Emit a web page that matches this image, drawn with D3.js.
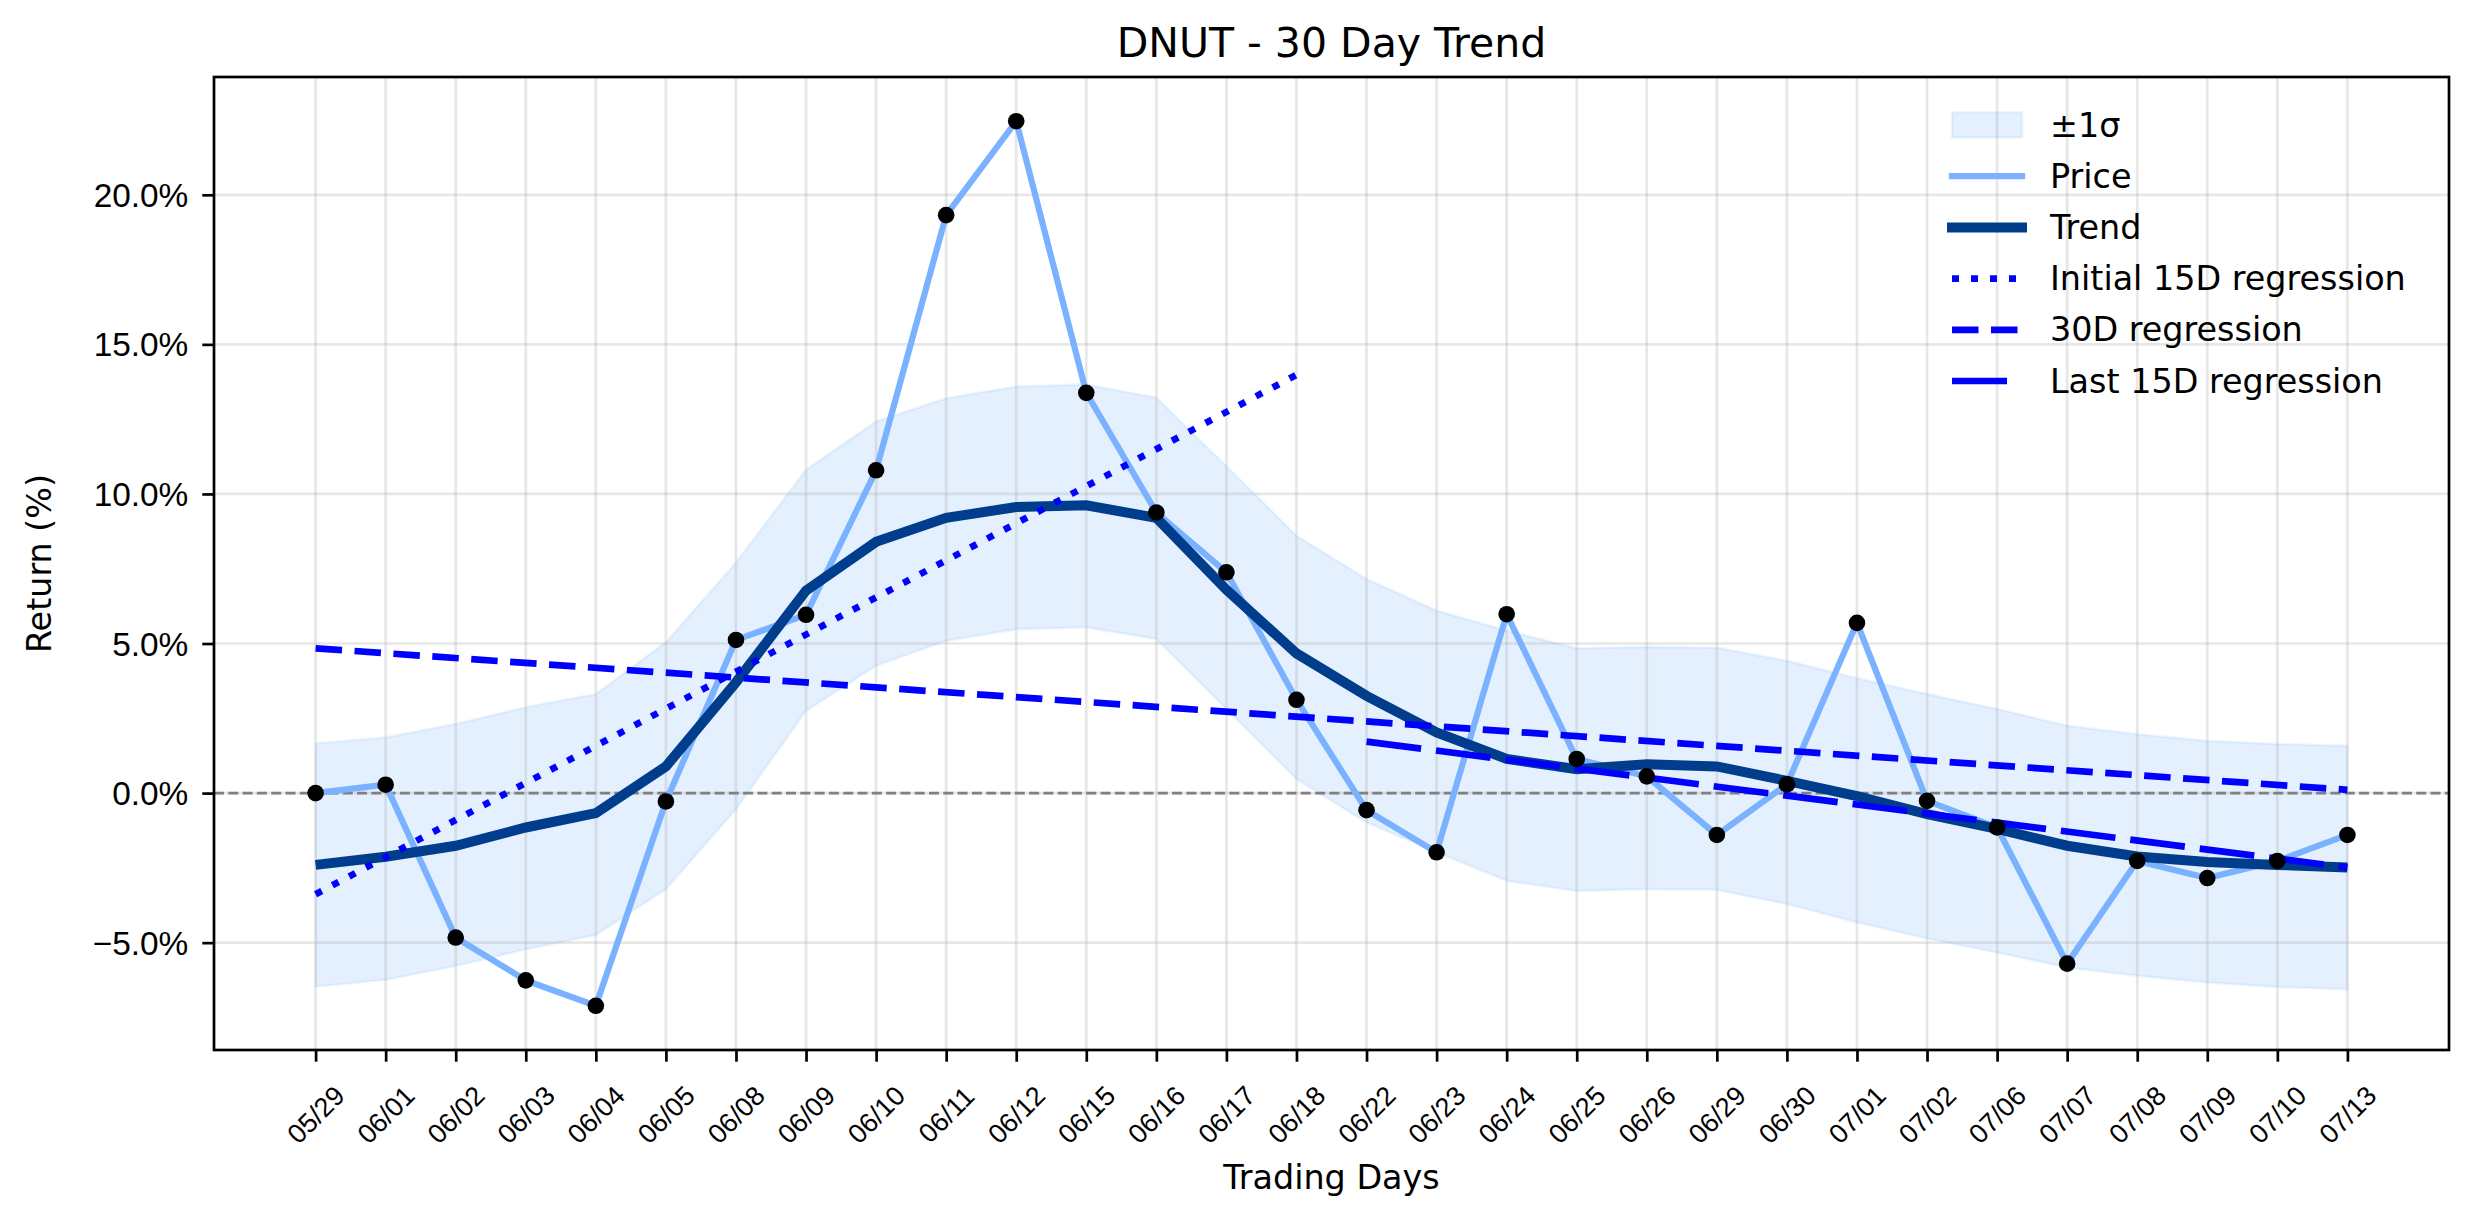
<!DOCTYPE html>
<html>
<head>
<meta charset="utf-8">
<title>DNUT - 30 Day Trend</title>
<script src="https://d3js.org/d3.v7.min.js"></script>
<style>
  body { margin: 0; background: #fff; }
  svg { display: block; font-family: "DejaVu Sans", sans-serif; }
  .axis line { stroke: #000; stroke-width: 2.7; }
  .axis text { fill: #000; }
  .grid line { stroke: #b0b0b0; stroke-opacity: 0.3; stroke-width: 2.7; }
</style>
</head>
<body>
<div id="content"></div>
<script>
// values (return in %)
var days = ['05/29','06/01','06/02','06/03','06/04','06/05','06/08','06/09','06/10','06/11',
            '06/12','06/15','06/16','06/17','06/18','06/22','06/23','06/24','06/25','06/26',
            '06/29','06/30','07/01','07/02','07/06','07/07','07/08','07/09','07/10','07/13'];

var price = [0.00, 0.28, -4.83, -6.26, -7.11, -0.28, 5.12, 5.96, 10.79, 19.32,
             22.46, 13.38, 9.38, 7.38, 3.12, -0.57, -1.98, 5.98, 1.14, 0.56,
             -1.40, 0.29, 5.69, -0.26, -1.15, -5.70, -2.27, -2.84, -2.27, -1.40];

var trend = [-2.40, -2.13, -1.76, -1.15, -0.67, 0.89, 3.70, 6.77, 8.40, 9.20,
             9.56, 9.62, 9.20, 6.80, 4.67, 3.25, 2.03, 1.14, 0.80, 0.96,
             0.89, 0.41, -0.10, -0.70, -1.20, -1.76, -2.12, -2.30, -2.40, -2.49];

var bandUpper = [1.66, 1.86, 2.31, 2.87, 3.31, 5.04, 7.70, 10.81, 12.42, 13.20,
                 13.59, 13.66, 13.22, 10.93, 8.60, 7.16, 6.10, 5.43, 4.84, 4.89,
                 4.86, 4.42, 3.84, 3.31, 2.81, 2.25, 1.97, 1.75, 1.64, 1.58];

var bandLower = [-6.47, -6.24, -5.78, -5.22, -4.74, -3.21, -0.54, 2.75, 4.26, 5.09,
                 5.48, 5.54, 5.15, 2.81, 0.47, -0.98, -1.98, -2.93, -3.27, -3.21,
                 -3.23, -3.71, -4.32, -4.86, -5.33, -5.83, -6.11, -6.33, -6.48, -6.56];

// regression lines: first / last day and value at each end
var regInitialDays = ['05/29', '06/18'];
var regInitialVals = [-3.38, 13.98];
var reg30Days = ['05/29', '07/13'];
var reg30Vals = [4.84, 0.11];
var regLastDays = ['06/22', '07/13'];
var regLastVals = [1.72, -2.49];

var yTicks = [-5, 0, 5, 10, 15, 20];
var legendLabels = ['\u00b11\u03c3', 'Price', 'Trend', 'Initial 15D regression', '30D regression', 'Last 15D regression'];

var width = 2474,
    height = 1224,
    plot = {left: 214, right: 2449, top: 77, bottom: 1050},
    n = days.length;

var svg = d3.select('#content').append('svg')
    .attr('width', width)
    .attr('height', height);

// matplotlib style 5% margins
var xPad = (n - 1) * 0.05;
var xScale = d3.scaleLinear()
    .domain([-xPad, n - 1 + xPad])
    .range([plot.left, plot.right]);

var allVals = price.concat(trend, bandUpper, bandLower, regInitialVals, reg30Vals, regLastVals);
var yExt = d3.extent(allVals),
    yPad = (yExt[1] - yExt[0]) * 0.05;
var yScale = d3.scaleLinear()
    .domain([yExt[0] - yPad, yExt[1] + yPad])
    .range([plot.bottom, plot.top]);

var bandColor = '#4b9bf2',
    priceColor = '#7ab2ff',
    trendColor = '#003d8c',
    regColor = '#0000ff',
    dotted = '7,12',
    dashed = '26.5,12.5',
    longDash = '55,15';

// +-1 sigma band
var area = d3.area()
    .x(function(d, i){ return xScale(i); })
    .y0(function(d, i){ return yScale(bandLower[i]); })
    .y1(function(d, i){ return yScale(bandUpper[i]); });

svg.append('path')
    .datum(bandUpper)
    .attr('d', area)
    .attr('fill', bandColor)
    .attr('fill-opacity', 0.15)
    .attr('stroke', bandColor)
    .attr('stroke-opacity', 0.1)
    .attr('stroke-width', 2.7);

// grid
svg.append('g')
    .attr('class', 'grid')
    .selectAll('line.v')
    .data(d3.range(n))
    .enter()
    .append('line')
    .attr('x1', function(d){ return xScale(d); })
    .attr('x2', function(d){ return xScale(d); })
    .attr('y1', plot.top)
    .attr('y2', plot.bottom);

svg.append('g')
    .attr('class', 'grid')
    .selectAll('line.h')
    .data(yTicks)
    .enter()
    .append('line')
    .attr('x1', plot.left)
    .attr('x2', plot.right)
    .attr('y1', function(d){ return yScale(d); })
    .attr('y2', function(d){ return yScale(d); });

// zero line
svg.append('line')
    .attr('x1', plot.left)
    .attr('x2', plot.right)
    .attr('y1', yScale(0))
    .attr('y2', yScale(0))
    .attr('stroke', '#808080')
    .attr('stroke-width', 2.8)
    .attr('stroke-dasharray', '10,4.3');

var line = d3.line()
    .x(function(d, i){ return xScale(i); })
    .y(function(d){ return yScale(d); });

svg.append('path')
    .datum(price)
    .attr('d', line)
    .attr('fill', 'none')
    .attr('stroke', priceColor)
    .attr('stroke-width', 6.2);

svg.append('path')
    .datum(trend)
    .attr('d', line)
    .attr('fill', 'none')
    .attr('stroke', trendColor)
    .attr('stroke-width', 10);

function regLine(dayPair, vals, dash) {
    svg.append('line')
        .attr('x1', xScale(days.indexOf(dayPair[0])))
        .attr('x2', xScale(days.indexOf(dayPair[1])))
        .attr('y1', yScale(vals[0]))
        .attr('y2', yScale(vals[1]))
        .attr('stroke', regColor)
        .attr('stroke-width', 6.7)
        .attr('stroke-dasharray', dash);
}
regLine(regInitialDays, regInitialVals, dotted);
regLine(reg30Days, reg30Vals, dashed);
regLine(regLastDays, regLastVals, longDash);

// price points
svg.append('g')
    .selectAll('circle')
    .data(price)
    .enter()
    .append('circle')
    .attr('cx', function(d, i){ return xScale(i); })
    .attr('cy', function(d){ return yScale(d); })
    .attr('r', 8.3)
    .attr('fill', '#000');

// axes
var xAxis = d3.axisBottom(xScale)
    .tickValues(d3.range(n))
    .tickFormat(function(i){ return days[i]; })
    .tickSize(11.7)
    .tickSizeOuter(0);

var gx = svg.append('g')
    .attr('class', 'axis')
    .attr('transform', 'translate(0,' + plot.bottom + ')')
    .call(xAxis);
gx.select('.domain').remove();
gx.selectAll('text')
    .attr('y', null)
    .attr('dy', null)
    .attr('text-anchor', 'middle')
    .attr('dominant-baseline', 'central')
    .attr('font-size', 27)
    .attr('transform', 'translate(0,65) rotate(-45)');

var yAxis = d3.axisLeft(yScale)
    .tickValues(yTicks)
    .tickFormat(function(d){ return (d < 0 ? '\u2212' : '') + Math.abs(d).toFixed(1) + '%'; })
    .tickSize(11.7)
    .tickPadding(14)
    .tickSizeOuter(0);

var gy = svg.append('g')
    .attr('class', 'axis')
    .attr('transform', 'translate(' + plot.left + ',0)')
    .call(yAxis);
gy.select('.domain').remove();
gy.selectAll('text')
    .attr('dy', null)
    .attr('dominant-baseline', 'central')
    .attr('font-size', 33.4);

// frame
svg.append('rect')
    .attr('x', plot.left)
    .attr('y', plot.top)
    .attr('width', plot.right - plot.left)
    .attr('height', plot.bottom - plot.top)
    .attr('fill', 'none')
    .attr('stroke', '#000')
    .attr('stroke-width', 2.7);

// titles
svg.append('text')
    .attr('x', (plot.left + plot.right) / 2)
    .attr('y', 57)
    .attr('text-anchor', 'middle')
    .attr('font-size', 41)
    .text('DNUT - 30 Day Trend');

svg.append('text')
    .attr('x', (plot.left + plot.right) / 2)
    .attr('y', 1189)
    .attr('text-anchor', 'middle')
    .attr('font-size', 33.4)
    .text('Trading Days');

svg.append('text')
    .attr('transform', 'translate(39,' + (plot.top + plot.bottom) / 2 + ') rotate(-90)')
    .attr('text-anchor', 'middle')
    .attr('dominant-baseline', 'central')
    .attr('font-size', 33.4)
    .text('Return (%)');

// legend
var legendStyles = [
    {type: 'patch'},
    {type: 'line', color: priceColor, w: 6.2, dash: null, cap: 'square'},
    {type: 'line', color: trendColor, w: 10, dash: null, cap: 'square'},
    {type: 'line', color: regColor, w: 6.7, dash: dotted, cap: 'butt'},
    {type: 'line', color: regColor, w: 6.7, dash: dashed, cap: 'butt'},
    {type: 'line', color: regColor, w: 6.7, dash: longDash, cap: 'butt'}
];
var lg = svg.append('g');
legendLabels.forEach(function(label, i){
    var yy = 125 + i * 51.2,
        s = legendStyles[i];
    if(s.type === 'patch') {
        lg.append('rect')
            .attr('x', 1952)
            .attr('y', yy - 12.5)
            .attr('width', 70)
            .attr('height', 25)
            .attr('fill', bandColor)
            .attr('fill-opacity', 0.15)
            .attr('stroke', bandColor)
            .attr('stroke-opacity', 0.1)
            .attr('stroke-width', 2.7);
    } else {
        lg.append('line')
            .attr('x1', 1952)
            .attr('x2', 2022)
            .attr('y1', yy)
            .attr('y2', yy)
            .attr('stroke', s.color)
            .attr('stroke-width', s.w)
            .attr('stroke-linecap', s.cap)
            .attr('stroke-dasharray', s.dash);
    }
    lg.append('text')
        .attr('x', 2050)
        .attr('y', yy)
        .attr('dominant-baseline', 'central')
        .attr('font-size', 33.4)
        .text(label);
});
</script>
</body>
</html>
